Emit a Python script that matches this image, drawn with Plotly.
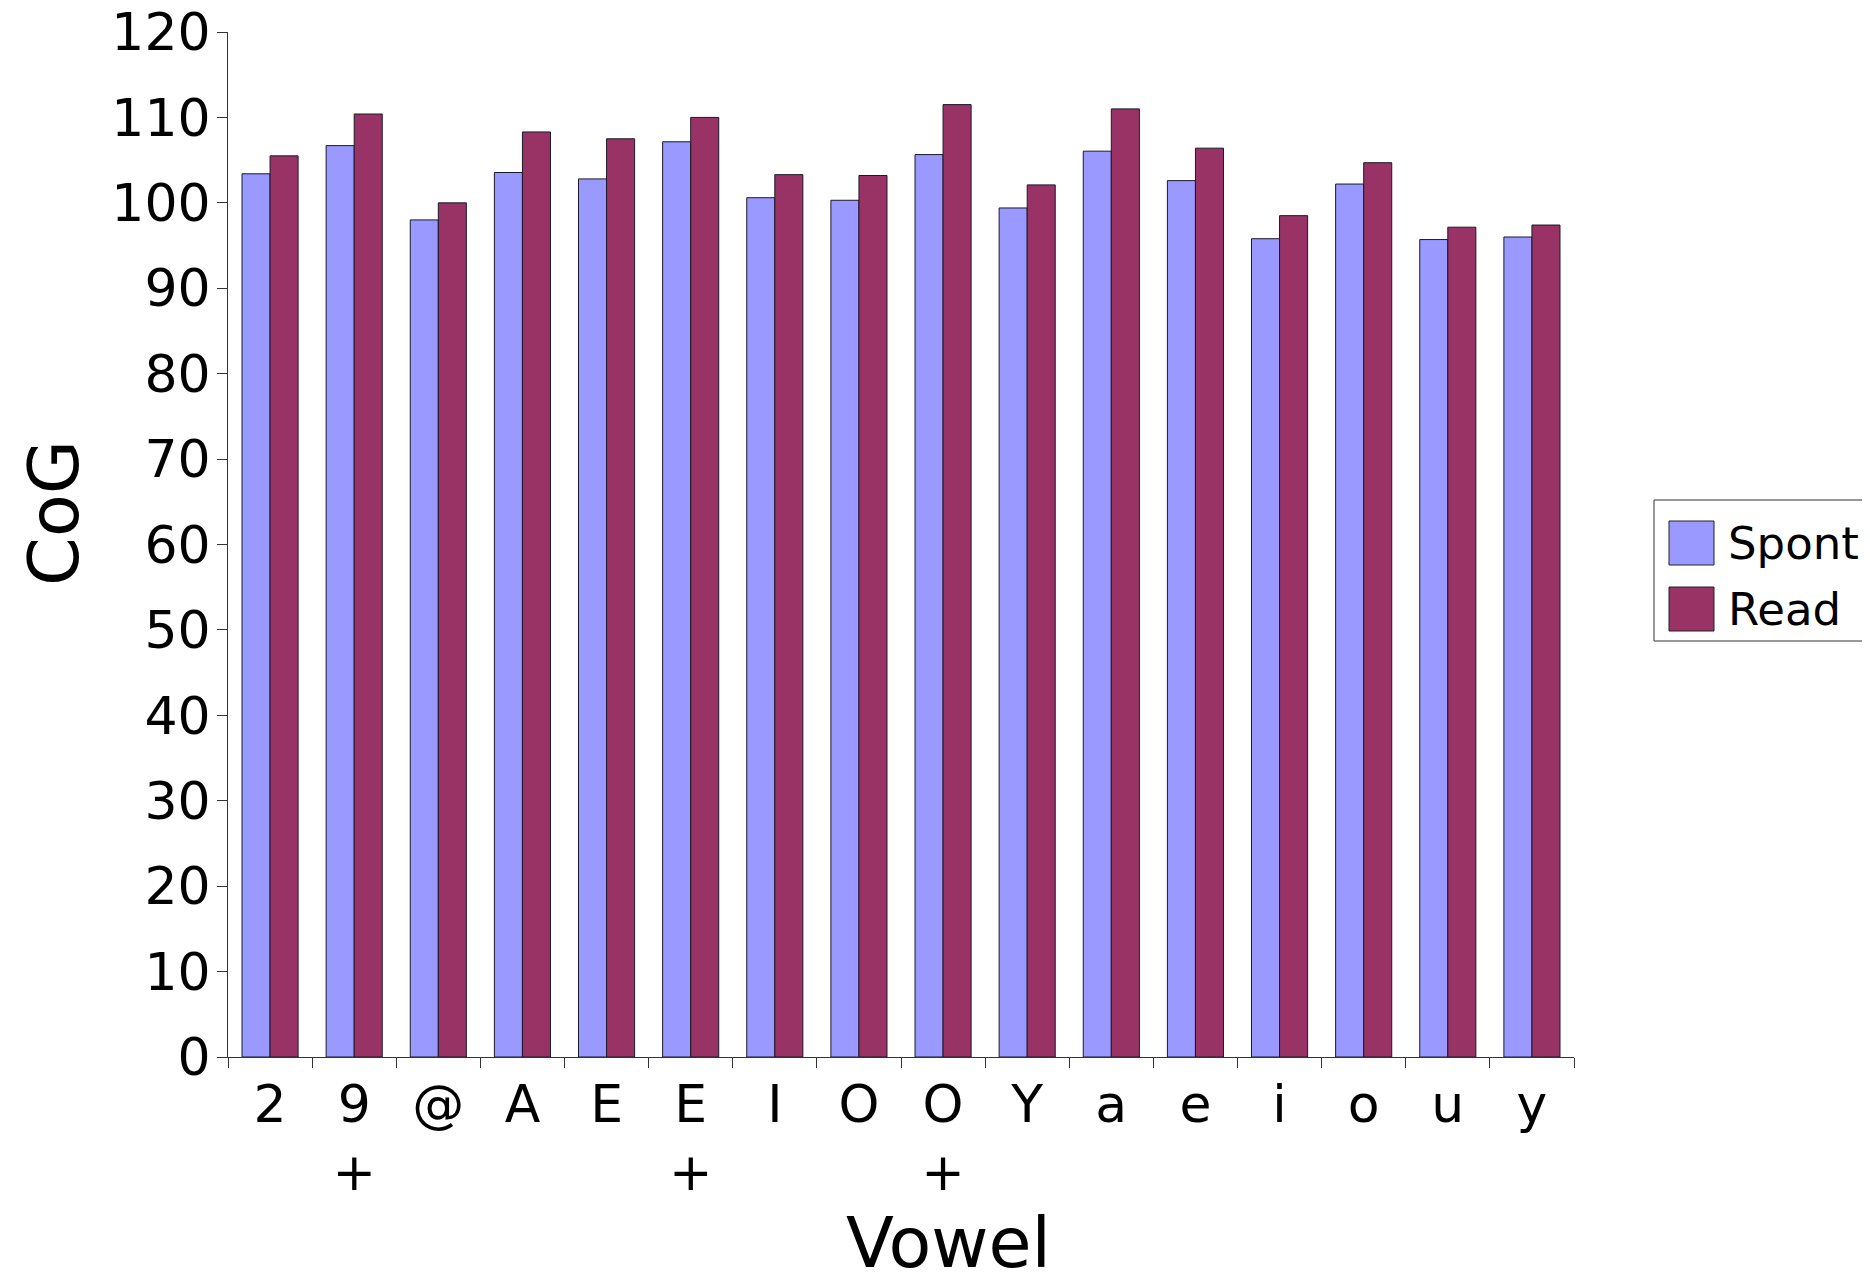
import plotly.graph_objects as go

vowels = ["2", "9<br>+", "@", "A", "E", "E<br>+", "I", "O", "O<br>+", "Y", "a", "e", "i", "o", "u", "y"]
spont = [103.4, 106.7, 98.0, 103.55, 102.8, 107.15, 100.6, 100.3, 105.65, 99.4, 106.05, 102.6, 95.8, 102.2, 95.7, 96.0]
read = [105.5, 110.4, 100.0, 108.3, 107.5, 110.0, 103.3, 103.2, 111.5, 102.1, 111.0, 106.4, 98.5, 104.7, 97.15, 97.4]
series_names = ["Spont", "Read"]
series_colors = ["#9999FF", "#993366"]

FONT = "DejaVu Sans"
OFF = 8  # page body margin in the browser
W, H = 1870 - OFF, 1279 - OFF
L, R, T, B = 228 - OFF, 296, 32 - OFF, 222
PW, PH = W - L - R, H - T - B


def px(x):
    # page pixel -> paper coordinate
    return (x - OFF - L) / PW


def py(y):
    return (T + PH - (y - OFF)) / PH


fig = go.Figure()
for name, vals, col in zip(series_names, [spont, read], series_colors):
    fig.add_trace(go.Bar(x=vowels, y=vals, name=name, showlegend=False,
                         marker=dict(color=col, line=dict(color="#1a1a2a", width=1))))

shapes = []
annotations = []
# legend box
shapes.append(dict(type="rect", xref="paper", yref="paper",
                   x0=px(1654), x1=px(1890), y0=py(641), y1=py(500),
                   line=dict(color="#333333", width=1), fillcolor="white", layer="below"))
for i, (name, col) in enumerate(zip(series_names, series_colors)):
    top = 521 + i * 66
    shapes.append(dict(type="rect", xref="paper", yref="paper",
                       x0=px(1669), x1=px(1714), y0=py(top + 44), y1=py(top),
                       line=dict(color="#222222", width=1), fillcolor=col))
    annotations.append(dict(text=name, xref="paper", yref="paper",
                            x=px(1726), y=py(top + 22), xanchor="left", yanchor="middle",
                            showarrow=False, font=dict(size=45, family=FONT, color="black")))

annotations.append(dict(text="Vowel", xref="paper", yref="paper", x=px(948), y=py(1243),
                        xanchor="center", yanchor="middle", showarrow=False,
                        font=dict(size=70, family=FONT, color="black")))
annotations.append(dict(text="CoG", xref="paper", yref="paper", x=px(54), y=py(513),
                        xanchor="center", yanchor="middle", showarrow=False, textangle=-90,
                        font=dict(size=70, family=FONT, color="black")))

fig.update_layout(
    width=W, height=H,
    margin=dict(l=L, r=R, t=T, b=B),
    paper_bgcolor="white", plot_bgcolor="white",
    barmode="group", bargap=0.333, bargroupgap=0,
    font=dict(family=FONT, color="black", size=54),
    showlegend=False,
    shapes=shapes,
    annotations=annotations,
    xaxis=dict(showline=True, linecolor="#333333", linewidth=1, automargin=False,
               ticks="outside", tickson="boundaries", ticklen=10, tickcolor="#333333",
               tickfont=dict(size=52, family=FONT), showgrid=False,
               ticklabeloverflow="allow", ticklabelstandoff=2),
    yaxis=dict(range=[0, 120], dtick=10, showline=True, linecolor="#333333", linewidth=1,
               automargin=False, ticks="outside", ticklen=10, tickcolor="#333333",
               tickfont=dict(size=52, family=FONT), showgrid=False, zeroline=False,
               ticklabeloverflow="allow", ticklabelstandoff=-4),
)

fig.write_html("out.html")
